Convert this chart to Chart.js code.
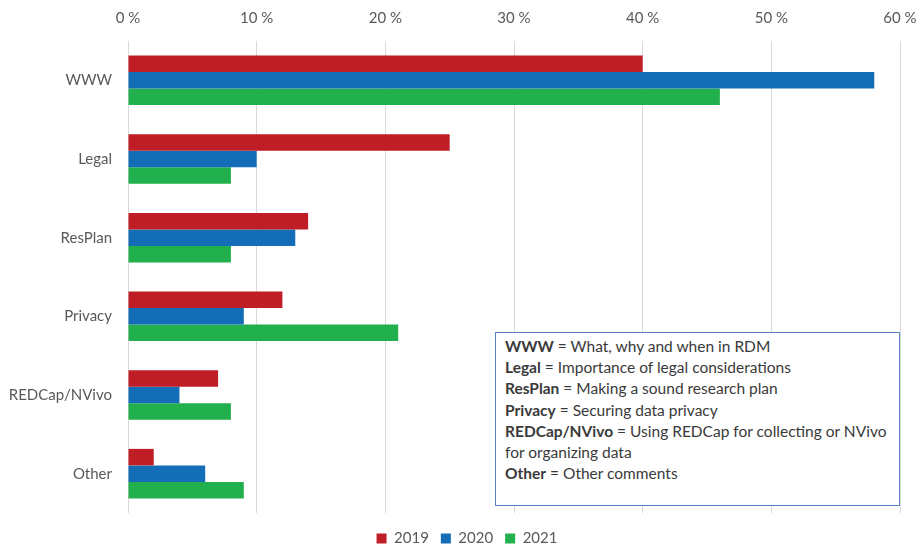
<!DOCTYPE html>
<html>
<head>
<meta charset="utf-8">
<script src="https://cdn.jsdelivr.net/npm/chart.js@4/dist/chart.umd.min.js"></script>
<style>
  html, body { margin: 0; padding: 0; background: #fff; }
  #wrap { position: relative; width: 921px; height: 545px; }
  #notes {
    position: absolute; left: 495px; top: 332px; width: 394px; height: 162px;
    border: 1px solid #5b84c8; background: #fff; padding: 3px 0 7px 9px;
    font-family: Lato, "Open Sans", sans-serif; font-size: 15.5px; line-height: 21.2px; color: #3a3a3a;
  }
</style>
</head>
<body>
<div id="wrap">
  <canvas id="myChart" width="921" height="545"></canvas>
  <div id="notes">
    <b>WWW</b> = What, why and when in RDM<br>
    <b>Legal</b> = Importance of legal considerations<br>
    <b>ResPlan</b> = Making a sound research plan<br>
    <b>Privacy</b> = Securing data privacy<br>
    <b>REDCap/NVivo</b> = Using REDCap for collecting or NVivo for organizing data<br>
    <b>Other</b> = Other comments
  </div>
</div>
<script>
const categorias = ["WWW", "Legal", "ResPlan", "Privacy", "REDCap/NVivo", "Other"];
const valores2019 = [40, 25, 14, 12, 7, 2];
const valores2020 = [58, 10, 13, 9, 4, 6];
const valores2021 = [46, 8, 8, 21, 8, 9];
const ticksX = [0, 10, 20, 30, 40, 50, 60];

const fuente = "Lato, 'Open Sans', sans-serif";

let ctx = document.getElementById("myChart").getContext('2d');

const datasets = [
  { label: "2019", data: valores2019, backgroundColor: "rgb(192, 30, 38)" },
  { label: "2020", data: valores2020, backgroundColor: "rgb(20, 110, 183)" },
  { label: "2021", data: valores2021, backgroundColor: "rgb(33, 176, 77)" }
];

// corre la leyenda un poco a la derecha (en el original no esta centrada en el canvas)
const moverLeyenda = {
  id: "moverLeyenda",
  afterLayout(chart) {
    if (chart.legend) {
      chart.legend.left += 17;
      chart.legend.right += 17;
    }
  }
};

const config = {
  type: "bar",
  data: { labels: categorias, datasets },
  plugins: [moverLeyenda],
  options: {
    indexAxis: "y",
    responsive: false,
    animation: false,
    layout: { padding: { left: 0, right: 21, top: 0, bottom: -11 } },
    datasets: { bar: { barPercentage: 1, categoryPercentage: 0.63 } },
    scales: {
      x: {
        position: "top",
        min: 0,
        max: 60,
        afterBuildTicks: (axis) => { axis.ticks = ticksX.map(v => ({ value: v })); },
        afterFit: (axis) => { axis.height = 41; axis.paddingLeft = 0; axis.paddingRight = 0; },
        grid: { color: "#d9d9d9", drawTicks: false },
        border: { display: false },
        ticks: {
          padding: 14,
          maxRotation: 0,
          color: "#595959",
          font: { family: fuente, size: 15 },
          callback: (v) => v + " %"
        }
      },
      y: {
        afterFit: (axis) => { axis.width = 128; },
        grid: { display: false },
        border: { display: false },
        ticks: {
          padding: 8,
          color: "#595959",
          font: { family: fuente, size: 15 }
        }
      }
    },
    plugins: {
      legend: {
        position: "bottom",
        title: {
          display: true,
          text: "",
          font: { size: 6, lineHeight: 1 },
          padding: 0
        },
        labels: {
          boxWidth: 10,
          boxHeight: 10,
          padding: 12,
          color: "#595959",
          font: { family: fuente, size: 15 }
        }
      },
      tooltip: { enabled: false }
    }
  }
};

let myChart = new Chart(ctx, config);
</script>
</body>
</html>
